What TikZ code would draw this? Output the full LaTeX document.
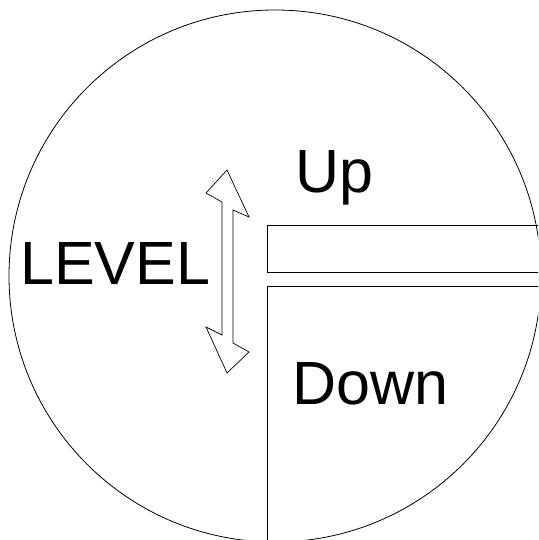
\documentclass[tikz,border=0pt]{standalone}
\usepackage{fontspec}
\setmainfont{Liberation Sans}
\usepackage{tikz}
\usetikzlibrary{positioning}
\tikzset{
  lbl/.style  = {anchor=base west, inner sep=0pt, font=\fontsize{61}{61}\selectfont},
  edge/.style = {draw, line width=0.8pt},
  arrw/.style = {draw, line width=0.7pt, fill=white, line join=miter}
}
\begin{document}
\begin{tikzpicture}[x=1pt,y=-1pt]
\useasboundingbox (0,0) rectangle (538,540);
\clip (0,0) rectangle (538,540);
\draw[edge] (275,276) circle [radius=266pt];
% upper bar and lower block
\coordinate (barnw) at (267,225);
\coordinate (barsw) at (267,272);
\coordinate (blknw) at (267,286);
\draw[edge] (545,225) -- (barnw) -- (barsw) -- (545,272);
\draw[edge] (545,286) -- (blknw) -- (267,550);
% level arrow
\draw[arrw] (227,170) -- (249,217) -- (233,210) -- (233,343) -- (249,352)
  -- (227,373) -- (206,327) -- (222,335) -- (222,202) -- (206,193) -- cycle;
\node[lbl] (level) at (20,284) {LEVEL};
\node[lbl] (up)    at (295,193) {Up};
\node[lbl] (down)  at (292,404) {Down};
\end{tikzpicture}
\end{document}
